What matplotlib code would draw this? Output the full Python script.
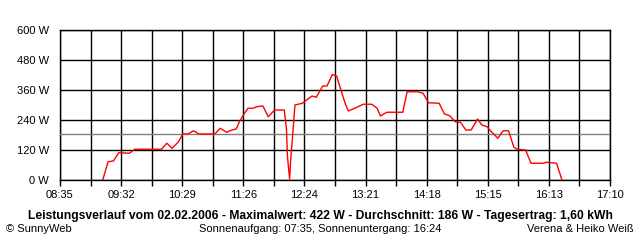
import matplotlib.pyplot as plt
import numpy as np

zeiten = ["09:15", "09:20", "09:25", "09:30", "09:40", "09:45", "10:10", "10:15",
          "10:20", "10:26", "10:30", "10:35", "10:40", "10:45", "11:00", "11:05",
          "11:11", "11:16", "11:20", "11:23", "11:28", "11:31", "11:36", "11:39",
          "11:45", "11:50", "11:56", "12:05", "12:07", "12:08", "12:10", "12:11",
          "12:13", "12:15", "12:22", "12:26", "12:31", "12:35", "12:41", "12:45",
          "12:50", "12:54", "12:59", "13:02", "13:05", "13:11", "13:19", "13:27",
          "13:32", "13:35", "13:41", "13:56", "14:00", "14:10", "14:15", "14:18",
          "14:20", "14:30", "14:35", "14:40", "14:45", "14:50", "14:55", "15:00",
          "15:06", "15:10", "15:15", "15:18", "15:25", "15:30", "15:35", "15:40",
          "15:43", "15:51", "15:56", "16:08", "16:10", "16:20", "16:25"]
leistung = [0, 73, 76, 109, 107, 123, 123, 147,
            127, 153, 184, 184, 197, 184, 184, 207,
            191, 200, 204, 233, 269, 287, 287, 293,
            296, 253, 280, 280, 207, 93, 3, 80,
            187, 300, 307, 320, 336, 331, 376, 376,
            422, 416, 347, 307, 276, 287, 303, 303,
            287, 256, 271, 271, 353, 353, 347, 324,
            309, 307, 264, 257, 233, 231, 200, 200,
            244, 220, 213, 197, 167, 197, 197, 131,
            123, 120, 67, 67, 71, 67, 0]
durchschnitt = 186

x_labels = ["08:35", "09:32", "10:29", "11:26", "12:24", "13:21", "14:18", "15:15", "16:13", "17:10"]
y_ticks = [0, 120, 240, 360, 480, 600]


def minuten(s):
    h, m = s.split(":")
    return int(h) * 60 + int(m)


t = [minuten(z) for z in zeiten]
x0, x1 = minuten(x_labels[0]), minuten(x_labels[-1])

plt.rcParams['font.family'] = ['Liberation Sans', 'DejaVu Sans']

fig = plt.figure(figsize=(6.4, 2.4), dpi=100)
ax = fig.add_axes([60 / 640, 60 / 240, 550 / 640, 150 / 240])

ticks = np.linspace(x0, x1, 19)
ax.set_xticks(ticks)
ax.set_xticklabels([x_labels[i // 2] if i % 2 == 0 else "" for i in range(19)], fontsize=8)
ax.set_yticks(y_ticks)
ax.set_yticklabels([f"{v} W" for v in y_ticks], fontsize=8)
ax.set_xlim(x0, x1)
ax.set_ylim(0, 600)
ax.grid(True, color='black', linewidth=1.0)
ax.tick_params(axis='x', length=4, width=1.0, color='black', pad=3)
ax.tick_params(axis='y', length=0, pad=8)
for s in ax.spines.values():
    s.set_linewidth(1.0)

ax.axhline(durchschnitt, color='#808080', linewidth=1.0, zorder=3)
ax.plot(t, leistung, color='red', linewidth=1.0, zorder=4)

fig.text(0.5, 1 - 216 / 240,
         "Leistungsverlauf vom 02.02.2006 - Maximalwert: 422 W - Durchschnitt: 186 W - Tagesertrag: 1,60 kWh",
         ha='center', va='center', fontsize=8.7, fontweight='bold')
fig.text(6 / 640, 1 - 229 / 240, "© SunnyWeb", ha='left', va='center', fontsize=8)
fig.text(320 / 640, 1 - 229 / 240, "Sonnenaufgang: 07:35, Sonnenuntergang: 16:24",
         ha='center', va='center', fontsize=8)
fig.text(634 / 640, 1 - 229 / 240, "Verena & Heiko Weiß", ha='right', va='center', fontsize=8)

fig.savefig("out.png", dpi=100, facecolor='white')
